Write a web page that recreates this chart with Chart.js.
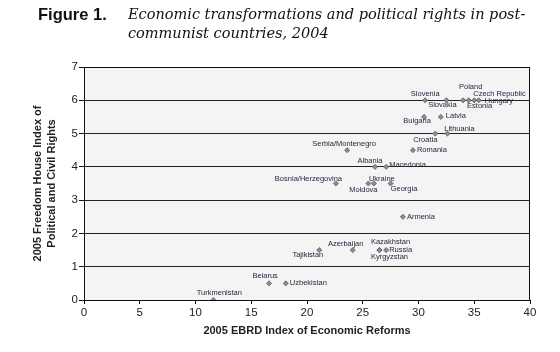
<!DOCTYPE html>
<html lang="en">
<head>
    <meta charset="UTF-8">
    <title>Figure 1</title>
    <script src="https://cdn.jsdelivr.net/npm/chart.js"></script>
    <style>
        body {
            margin: 0;
            padding: 0;
            background-color: #ffffff;
        }
        .wrap {
            position: relative;
            width: 560px;
            height: 352px;
        }
        .fig {
            position: absolute;
            left: 38px;
            top: 5px;
            font: bold 16.5px "Liberation Sans", Arial, sans-serif;
            color: #111;
        }
        .caption {
            position: absolute;
            left: 128px;
            top: 5px;
            font: italic 14.5px "DejaVu Serif", serif;
            line-height: 19px;
            color: #111;
        }
        canvas {
            position: absolute;
            left: 0;
            top: 0;
        }
    </style>
</head>
<body>
    <div class="wrap">
        <canvas id="chart" width="560" height="352"></canvas>
        <div class="fig">Figure 1.</div>
        <div class="caption">Economic transformations and political rights in post-<br>communist countries, 2004</div>
    </div>

    <script>
        // values
        const countries = [
            'Slovenia', 'Slovakia', 'Poland', 'Czech Republic', 'Hungary', 'Estonia',
            'Latvia', 'Bulgaria', 'Lithuania', 'Croatia', 'Romania', 'Serbia/Montenegro',
            'Albania', 'Macedonia', 'Bosnia/Herzegovina', 'Ukraine', 'Moldova', 'Georgia',
            'Armenia', 'Azerbaijan', 'Tajikistan', 'Kazakhstan', 'Russia', 'Kyrgyzstan',
            'Belarus', 'Uzbekistan', 'Turkmenistan'
        ];
        const reformIndex = [
            30.6, 32.5, 34.5, 35.0, 35.4, 34.0,
            32.0, 30.5, 32.6, 31.5, 29.5, 23.6,
            26.1, 27.1, 22.6, 26.0, 25.5, 27.5,
            28.6, 24.1, 21.1, 26.5, 27.1, 26.5,
            16.6, 18.1, 11.6
        ];
        const freedomIndex = [
            6.0, 6.0, 6.0, 6.0, 6.0, 6.0,
            5.5, 5.5, 5.0, 5.0, 4.5, 4.5,
            4.0, 4.0, 3.5, 3.5, 3.5, 3.5,
            2.5, 1.5, 1.5, 1.5, 1.5, 1.5,
            0.5, 0.5, 0.0
        ];
        const xTicks = [0, 5, 10, 15, 20, 25, 30, 35, 40];
        const yTicks = [0, 1, 2, 3, 4, 5, 6, 7];

        // where each country name sits next to its point: [dx, dy, align]
        const labelPlacement = [
            [0, -6, 'center'], [-4, 5, 'center'], [2, -13, 'center'], [-1, -6, 'left'], [6, 1, 'left'], [4, 6, 'left'],
            [5, -1, 'left'], [-7, 4, 'center'], [12, -5, 'center'], [-10, 6, 'center'], [4, 0, 'left'], [-3, -6, 'center'],
            [-5, -6, 'center'], [3, -2, 'left'], [6, -5, 'right'], [-5, -5, 'left'], [-5, 6, 'center'], [0, 5, 'left'],
            [4, 0, 'left'], [-7, -6, 'center'], [4, 5, 'right'], [11, -8, 'center'], [3, 0, 'left'], [10, 7, 'center'],
            [-4, -7, 'center'], [4, 0, 'left'], [6, -7, 'center']
        ];

        const plotFrame = {
            id: 'plotFrame',
            beforeDraw(chart) {
                const { ctx, chartArea: a } = chart;
                ctx.save();
                ctx.fillStyle = '#f4f4f4';
                ctx.fillRect(a.left, a.top, a.right - a.left, a.bottom - a.top);
                ctx.restore();
            },
            beforeDatasetsDraw(chart) {
                const { ctx, chartArea: a } = chart;
                ctx.save();
                ctx.strokeStyle = '#111';
                ctx.lineWidth = 1;
                ctx.beginPath();
                ctx.moveTo(a.left, a.top + 0.5);
                ctx.lineTo(a.right - 0.5, a.top + 0.5);
                ctx.lineTo(a.right - 0.5, a.bottom);
                ctx.stroke();
                ctx.restore();
            }
        };

        const pointNames = {
            id: 'pointNames',
            afterDatasetsDraw(chart) {
                const { ctx } = chart;
                const meta = chart.getDatasetMeta(0);
                ctx.save();
                ctx.font = '7.5px "Liberation Sans", Arial, sans-serif';
                ctx.fillStyle = '#262640';
                ctx.textBaseline = 'middle';
                meta.data.forEach((pt, i) => {
                    const [dx, dy, align] = labelPlacement[i];
                    ctx.textAlign = align;
                    ctx.fillText(countries[i], pt.x + dx, pt.y + dy);
                });
                ctx.restore();
            }
        };

        const ctx = document.getElementById('chart').getContext('2d');
        new Chart(ctx, {
            type: 'scatter',
            data: {
                datasets: [{
                    label: 'Countries',
                    data: reformIndex.map((x, i) => ({ x: x, y: freedomIndex[i] })),
                    pointStyle: 'rectRot',
                    radius: 2.6,
                    backgroundColor: '#8c8c8c',
                    borderColor: '#4a4a4a',
                    borderWidth: 0.6
                }]
            },
            options: {
                responsive: false,
                animation: false,
                layout: { padding: { left: 0, top: 67, right: 30, bottom: 0 } },
                plugins: {
                    legend: { display: false },
                    tooltip: { enabled: false }
                },
                scales: {
                    x: {
                        type: 'linear',
                        min: 0,
                        max: 40,
                        afterBuildTicks(scale) { scale.ticks = xTicks.map(v => ({ value: v })); },
                        afterFit(scale) { scale.height = 52; },
                        ticks: {
                            color: '#222',
                            padding: 2,
                            font: { family: '"Liberation Sans", Arial, sans-serif', size: 11.5 }
                        },
                        grid: { drawOnChartArea: false, tickLength: 4, tickColor: '#111' },
                        border: { color: '#111' },
                        title: {
                            display: true,
                            text: '2005 EBRD Index of Economic Reforms',
                            color: '#222',
                            padding: { top: 0, bottom: 14 },
                            font: { family: '"Liberation Sans", Arial, sans-serif', size: 11, weight: 'bold', lineHeight: 1.3 }
                        }
                    },
                    y: {
                        min: 0,
                        max: 7,
                        afterBuildTicks(scale) { scale.ticks = yTicks.map(v => ({ value: v })); },
                        afterFit(scale) { scale.width = 84; },
                        ticks: {
                            color: '#222',
                            padding: 1,
                            font: { family: '"Liberation Sans", Arial, sans-serif', size: 11.5 }
                        },
                        grid: { color: '#222', tickLength: 5, tickColor: '#111' },
                        border: { color: '#111' },
                        title: {
                            display: true,
                            text: ['2005 Freedom House Index of', 'Political and Civil Rights'],
                            color: '#222',
                            padding: { top: 31, bottom: 0 },
                            font: { family: '"Liberation Sans", Arial, sans-serif', size: 11, weight: 'bold', lineHeight: 1.3 }
                        }
                    }
                }
            },
            plugins: [plotFrame, pointNames]
        });
    </script>
</body>
</html>
